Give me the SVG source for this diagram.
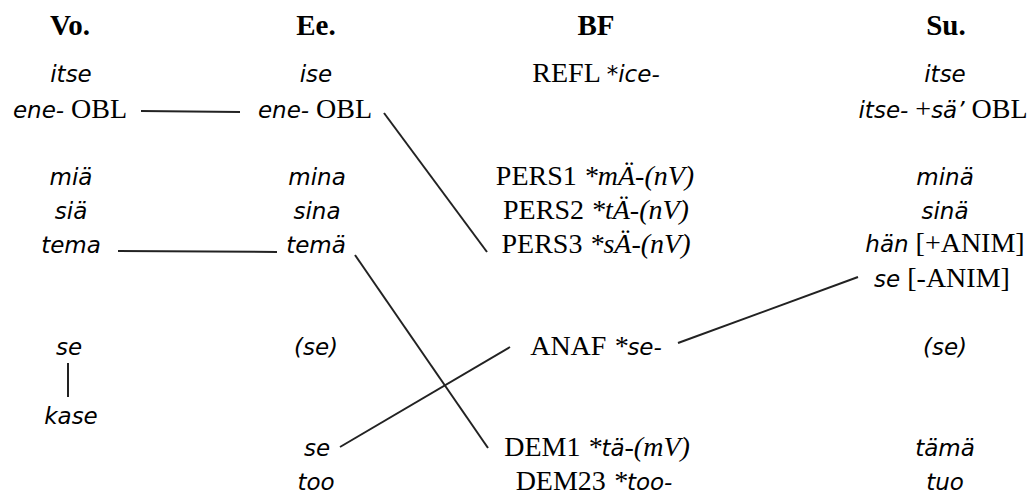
<svg xmlns="http://www.w3.org/2000/svg" width="1036" height="495" viewBox="0 0 1036 495">
<style>
text{font-family:"Liberation Serif","Times New Roman",serif;font-size:28px;fill:#000;text-anchor:middle}
.h{font-weight:bold;font-size:29px}
.s{font-family:"DejaVu Sans","Noto Sans",sans-serif;font-style:italic;font-size:23px}
.i{font-style:italic}
.c line{stroke:#222;stroke-width:2;fill:none}
</style>
<rect width="1036" height="495" fill="#fff"/>
<g id="headers">
<text class="h" x="70" y="35">Vo.</text>
<text class="h" x="316" y="35">Ee.</text>
<text class="h" x="596" y="35">BF</text>
<text class="h" x="946" y="35">Su.</text>
</g>
<g id="vo">
<text x="71" y="82"><tspan class="s">itse</tspan></text>
<text id="vo-ene" x="70" y="118"><tspan class="s">ene-</tspan> OBL</text>
<text x="71" y="185"><tspan class="s">miä</tspan></text>
<text x="71" y="219"><tspan class="s">siä</tspan></text>
<text id="vo-tema" x="71" y="253"><tspan class="s">tema</tspan></text>
<text id="vo-se" x="69" y="355"><tspan class="s">se</tspan></text>
<text id="vo-kase" x="71" y="424"><tspan class="s">kase</tspan></text>
</g>
<g id="ee">
<text x="316" y="82"><tspan class="s">ise</tspan></text>
<text id="ee-ene" x="315" y="118"><tspan class="s">ene-</tspan> OBL</text>
<text x="317" y="185"><tspan class="s">mina</tspan></text>
<text x="317" y="219"><tspan class="s">sina</tspan></text>
<text id="ee-tema" x="316" y="253"><tspan class="s">temä</tspan></text>
<text x="316" y="355"><tspan class="s">(se)</tspan></text>
<text id="ee-se" x="317" y="456"><tspan class="s">se</tspan></text>
<text x="316" y="490"><tspan class="s">too</tspan></text>
</g>
<g id="bf">
<text x="596" y="82">REFL <tspan class="s">*ice-</tspan></text>
<text x="595" y="185">PERS1 <tspan class="i">*mÄ-(nV)</tspan></text>
<text x="596" y="219">PERS2 <tspan class="i">*tÄ-(nV)</tspan></text>
<text id="bf-pers3" x="596" y="253">PERS3 <tspan class="i">*sÄ-(nV)</tspan></text>
<text id="bf-anaf" x="596" y="355">ANAF <tspan class="i">*</tspan><tspan class="s">se-</tspan></text>
<text id="bf-dem1" x="597" y="456">DEM1 <tspan class="i">*</tspan><tspan class="s">tä</tspan><tspan class="i">-(mV)</tspan></text>
<text x="594" y="490">DEM23 <tspan class="i">*</tspan><tspan class="s">too-</tspan></text>
</g>
<g id="su">
<text x="945" y="82"><tspan class="s">itse</tspan></text>
<text x="943" y="118"><tspan class="s">itse-</tspan> +<tspan class="s">sä’</tspan> OBL</text>
<text x="945" y="185"><tspan class="s">minä</tspan></text>
<text x="945" y="219"><tspan class="s">sinä</tspan></text>
<text x="945" y="252"><tspan class="s">hän</tspan> [+ANIM]</text>
<text id="su-se" x="942" y="287"><tspan class="s">se</tspan> [-ANIM]</text>
<text x="945" y="355"><tspan class="s">(se)</tspan></text>
<text x="945" y="456"><tspan class="s">tämä</tspan></text>
<text x="945" y="490"><tspan class="s">tuo</tspan></text>
</g>
<g id="connectors" class="c">
<line x1="141" y1="111" x2="240" y2="112"/>
<line x1="384" y1="113" x2="487" y2="252"/>
<line x1="118" y1="251" x2="277" y2="252"/>
<line x1="355" y1="255" x2="488" y2="448"/>
<line x1="340" y1="447" x2="510" y2="347"/>
<line x1="678" y1="343" x2="858" y2="277"/>
<line x1="68" y1="363" x2="68" y2="397"/>
</g>
</svg>
